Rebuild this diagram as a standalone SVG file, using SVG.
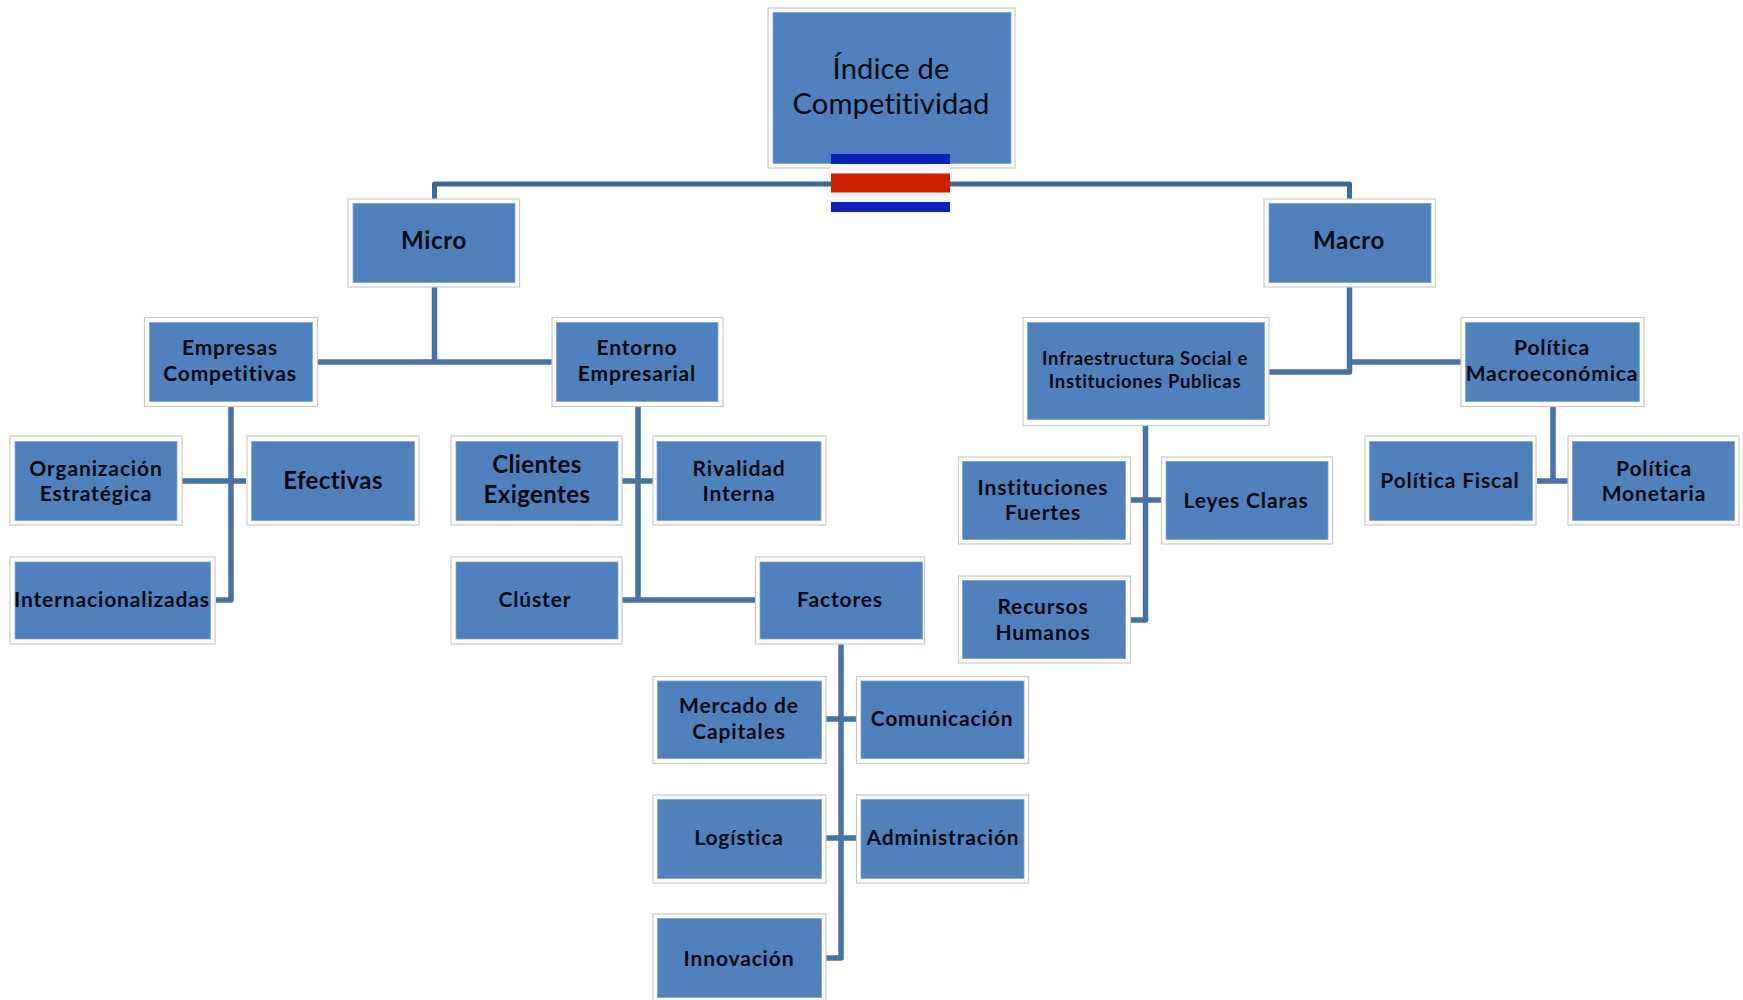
<svg xmlns="http://www.w3.org/2000/svg" width="1743" height="1000" viewBox="0 0 1743 1000">
<style>
.o{fill:#fff;stroke:#cacaca;stroke-width:1.2}
.f{fill:#4f81bd;stroke:#7fa5d2;stroke-width:.8}
text{font-family:"Lato","Open Sans","Liberation Sans",sans-serif;font-weight:700;fill:#050a12;text-anchor:middle;font-size:21px;letter-spacing:.85px}
.t{font-size:29.200px;font-weight:400;letter-spacing:.1px}
.l{font-size:24px;letter-spacing:.4px}
.m{font-size:24px;letter-spacing:.7px}
.n{font-size:18.500px;letter-spacing:.65px}
.c path{fill:none;stroke:#4672a6;stroke-width:5.500;stroke-linejoin:round}
.c .r{stroke:#41689a;stroke-width:5}
</style>
<rect width="1743" height="1000" fill="#fff"/>
<g id="connectors" class="c">
<path class="r" d="M434.500 203V184H1349.500V203"/>
<path d="M434.500 287V362M318 362H552"/>
<path d="M1349.500 287V372H1269M1349.500 362H1461"/>
<path d="M231 406V600H216M182 481H246"/>
<path d="M638 406V600M622 481H653M622 600H756"/>
<path d="M841 644V958H826M826 719H856M826 838H856"/>
<path d="M1145.500 425V620H1131M1131 500H1161"/>
<path d="M1553 406V481M1537 481H1568"/>
</g>
<g id="n-root"><rect class="o" x="768" y="8" width="247" height="160"/><rect class="f" x="773" y="12.500" width="238" height="151"/><text class="t" x="891" y="79">Índice de</text><text class="t" x="891" y="114">Competitividad</text></g>
<g id="flag"><rect x="831" y="154" width="119" height="58" fill="#f7f7f7"/><rect x="831" y="154" width="119" height="10" fill="#0b22c0"/><rect x="831" y="173.500" width="119" height="19" fill="#d12000"/><rect x="831" y="202" width="119" height="10" fill="#0b22c0"/></g>
<g id="n-micro"><rect class="o" x="348" y="199" width="171.500" height="88"/><rect class="f" x="353" y="203.500" width="162" height="79"/><text class="m" x="434" y="249">Micro</text></g>
<g id="n-macro"><rect class="o" x="1264" y="199" width="171.500" height="88"/><rect class="f" x="1269" y="203.500" width="162" height="79"/><text class="m" x="1349" y="249">Macro</text></g>
<g id="n-empresas"><rect class="o" x="144.500" y="317.500" width="173" height="89"/><rect class="f" x="149.500" y="322.500" width="163" height="79"/><text x="230" y="355">Empresas</text><text x="230" y="381">Competitivas</text></g>
<g id="n-entorno"><rect class="o" x="552" y="317.500" width="171" height="89"/><rect class="f" x="556.500" y="322.500" width="161.500" height="79"/><text x="637" y="355">Entorno</text><text x="637" y="381">Empresarial</text></g>
<g id="n-infra"><rect class="o" x="1023" y="317.500" width="246" height="108"/><rect class="f" x="1027.500" y="322.500" width="237" height="97"/><text class="n" x="1145" y="365">Infraestructura Social e</text><text class="n" x="1145" y="388">Instituciones Publicas</text></g>
<g id="n-polmacro"><rect class="o" x="1461" y="317.500" width="183" height="89"/><rect class="f" x="1465.500" y="322.500" width="174" height="79"/><text x="1552" y="355">Política</text><text x="1552" y="381">Macroeconómica</text></g>
<g id="n-org"><rect class="o" x="10" y="436" width="172" height="89"/><rect class="f" x="15" y="441.500" width="162" height="79"/><text x="96" y="475.500">Organización</text><text x="96" y="501">Estratégica</text></g>
<g id="n-efectivas"><rect class="o" x="247" y="436" width="172" height="89"/><rect class="f" x="251.500" y="441.500" width="163" height="79"/><text class="l" x="333" y="489">Efectivas</text></g>
<g id="n-inter"><rect class="o" x="10" y="557" width="205" height="87"/><rect class="f" x="15" y="562" width="195.500" height="77"/><text x="112" y="607">Internacionalizadas</text></g>
<g id="n-clientes"><rect class="o" x="451" y="436" width="171" height="89"/><rect class="f" x="456" y="441.500" width="162" height="79"/><text class="l" x="537" y="473">Clientes</text><text class="l" x="537" y="503">Exigentes</text></g>
<g id="n-rivalidad"><rect class="o" x="653" y="436" width="173" height="89"/><rect class="f" x="657" y="441.500" width="164" height="79"/><text x="739" y="475.500">Rivalidad</text><text x="739" y="501">Interna</text></g>
<g id="n-cluster"><rect class="o" x="451" y="557" width="171" height="87"/><rect class="f" x="456" y="562" width="162" height="77"/><text x="535" y="607">Clúster</text></g>
<g id="n-factores"><rect class="o" x="755.500" y="557" width="169" height="87"/><rect class="f" x="760" y="562" width="162.500" height="77"/><text x="840" y="607">Factores</text></g>
<g id="n-mercado"><rect class="o" x="653" y="676.500" width="173" height="87"/><rect class="f" x="657.500" y="681" width="164" height="77.500"/><text x="739" y="713">Mercado de</text><text x="739" y="739">Capitales</text></g>
<g id="n-comunic"><rect class="o" x="856.500" y="676.500" width="172" height="87"/><rect class="f" x="861" y="681" width="163" height="77.500"/><text x="942" y="726">Comunicación</text></g>
<g id="n-logistica"><rect class="o" x="653" y="795" width="173" height="88"/><rect class="f" x="657.500" y="799.500" width="164" height="79"/><text x="739" y="845">Logística</text></g>
<g id="n-admin"><rect class="o" x="856.500" y="795" width="172" height="88"/><rect class="f" x="861" y="799.500" width="163" height="79"/><text x="943" y="845">Administración</text></g>
<g id="n-innov"><rect class="o" x="653" y="914" width="173" height="90"/><rect class="f" x="657.500" y="918.500" width="164" height="79"/><text x="739" y="966">Innovación</text></g>
<g id="n-instit"><rect class="o" x="958.500" y="457" width="172" height="87"/><rect class="f" x="962.500" y="461.500" width="163" height="78"/><text x="1043" y="494.500">Instituciones</text><text x="1043" y="520">Fuertes</text></g>
<g id="n-leyes"><rect class="o" x="1161.500" y="457" width="171" height="87"/><rect class="f" x="1166" y="461.500" width="162" height="78"/><text x="1246" y="507.500">Leyes Claras</text></g>
<g id="n-recursos"><rect class="o" x="958.500" y="576" width="172" height="87"/><rect class="f" x="962.500" y="580.500" width="163" height="78"/><text x="1043" y="614">Recursos</text><text x="1043" y="640">Humanos</text></g>
<g id="n-fiscal"><rect class="o" x="1365" y="436" width="171" height="89"/><rect class="f" x="1369.500" y="441.500" width="163" height="79"/><text x="1450" y="488">Política Fiscal</text></g>
<g id="n-monet"><rect class="o" x="1568" y="436" width="171" height="89"/><rect class="f" x="1572.500" y="441.500" width="162" height="79"/><text x="1654" y="475.500">Política</text><text x="1654" y="501">Monetaria</text></g>
</svg>
